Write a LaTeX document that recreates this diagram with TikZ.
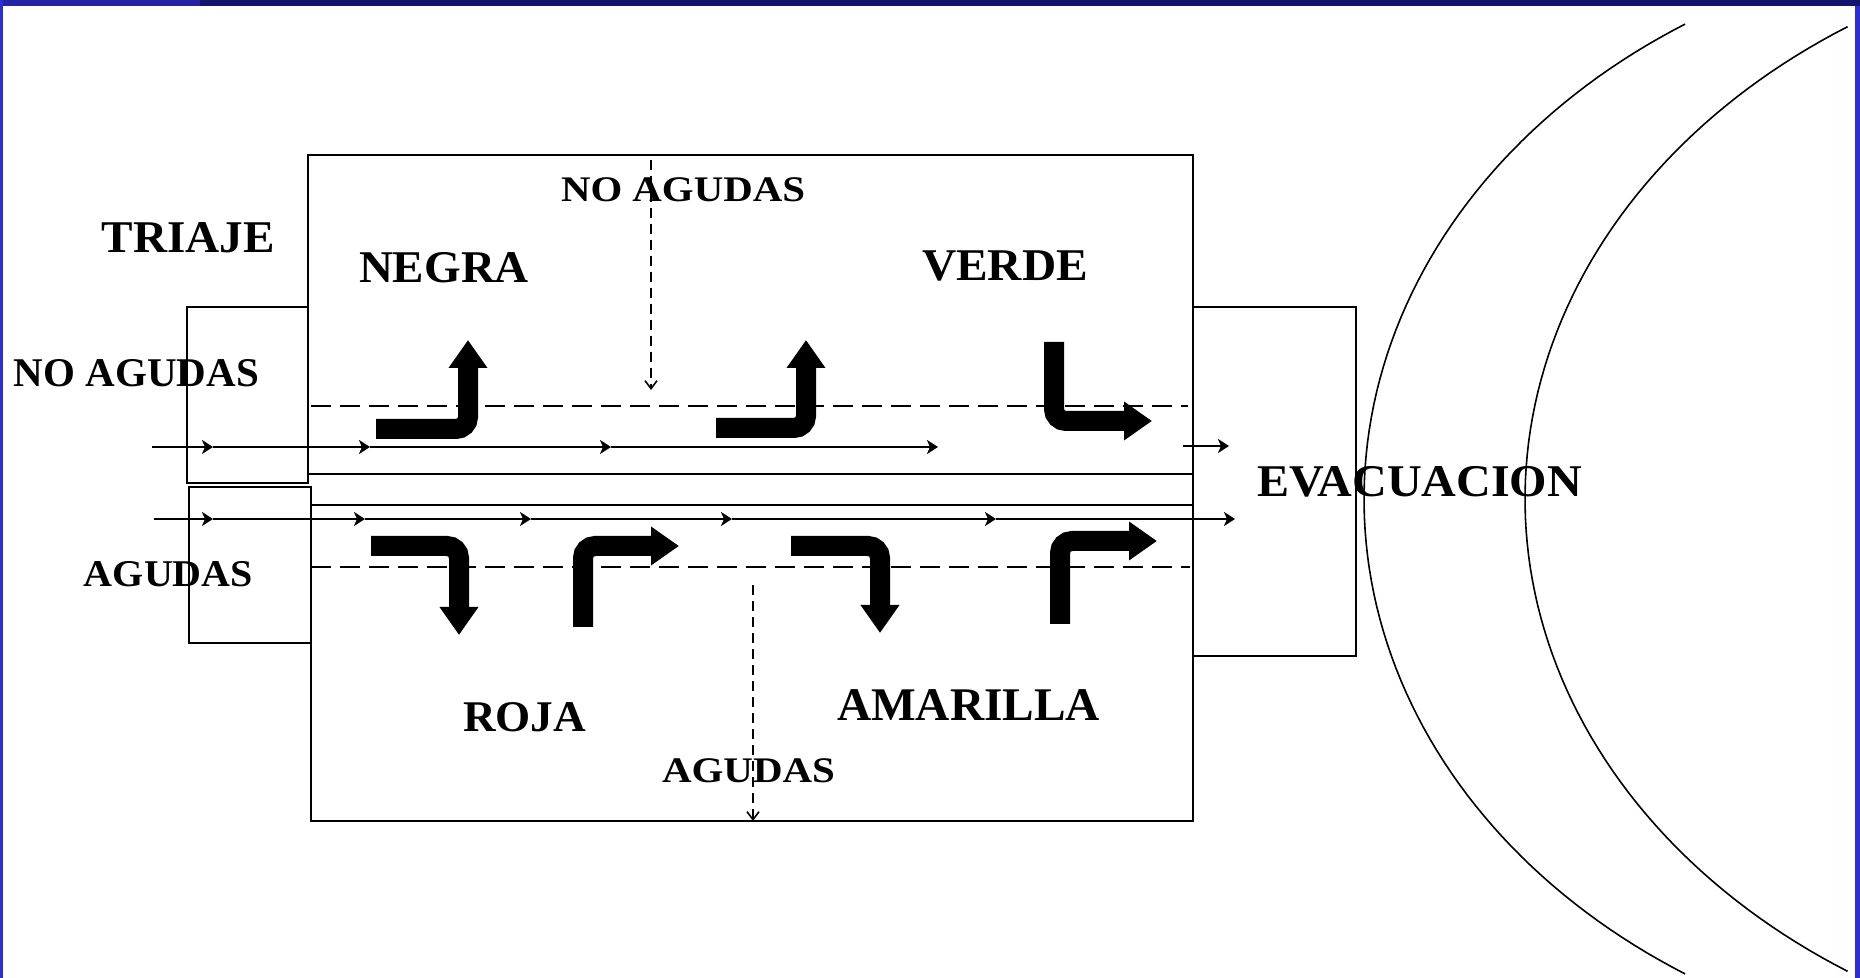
\documentclass[tikz,border=0pt]{standalone}
\usepackage{fontspec}
\setmainfont{Liberation Serif}
\usepackage{graphicx}
\usetikzlibrary{arrows.meta}
\definecolor{navy}{RGB}{20,20,110}
\definecolor{navylight}{RGB}{35,35,165}
\definecolor{sideblue}{RGB}{45,45,215}
\newcommand{\lbltext}[3]{\fontsize{#1}{#1}\selectfont\resizebox{#2}{\height}{#3}}
\begin{document}
\begin{tikzpicture}[x=0.5pt,y=-0.5pt,
  boxline/.style={line width=1pt},
  flow/.style={line width=1pt,-{Stealth[length=5.5pt,width=7pt,inset=1.5pt]}},
  bigarrow/.style={line width=10pt,rounded corners=6pt,-{Triangle[length=14pt,width=18.5pt]}},
  dasharrow/.style={line width=0.8pt,dash pattern=on 5pt off 3pt,-{Straight Barb[length=4pt,width=6pt]}},
  divide/.style={line width=0.9pt,dash pattern=on 10pt off 4.5pt},
  lbl/.style={inner sep=0pt,anchor=base,font=\bfseries},
  arcline/.style={line width=0.8pt}]
% canvas and frame
\useasboundingbox (0,0) rectangle (1860,978);
\fill[white] (0,0) rectangle (1860,978);
\fill[navy] (0,0) rectangle (1860,6);
\fill[navylight] (0,0) rectangle (200,6);
\fill[sideblue] (0,0) rectangle (3,978);
\fill[sideblue] (1855,6) rectangle (1860,978);

% curved arcs on the right
\draw[arcline] plot[domain=122:238,samples=90] ({2047+683*cos(\x)},{499+560*sin(\x)});
\draw[arcline] plot[domain=122.5:237.5,samples=90] ({2222+697*cos(\x)},{499+560*sin(\x)});

% boxes
\draw[boxline] (308,483) -- (308,155) -- (1193,155) -- (1193,821) -- (311,821) -- (311,505) -- (1193,505);
\draw[boxline] (308,474) -- (1193,474);
\draw[boxline] (187,307) rectangle (308,483);
\draw[boxline] (189,487) rectangle (311,643);
\draw[boxline] (1193,307) rectangle (1356,656);

% dashed dividers
\draw[divide] (311,406) -- (1188,406);
\draw[divide] (311,567) -- (1190,567);

% labels
\node[lbl] (triaje) at (188.5,253) {\lbltext{22.7pt}{86.5pt}{TRIAJE}};
\node[lbl] (negra) at (444,283) {\lbltext{22.7pt}{85pt}{NEGRA}};
\node[lbl] (noagtop) at (683,202) {\lbltext{18pt}{122pt}{NO AGUDAS}};
\node[lbl] (verde) at (1005,281) {\lbltext{22.7pt}{83pt}{VERDE}};
\node[lbl] (noagleft) at (136.5,387) {\lbltext{20.4pt}{122.5pt}{NO AGUDAS}};
\node[lbl] (evac) at (1419.5,497) {\lbltext{22.7pt}{162.5pt}{EVACUACION}};
\node[lbl] (agleft) at (168.5,587) {\lbltext{18.9pt}{84.5pt}{AGUDAS}};
\node[lbl] (roja) at (524.5,732) {\lbltext{21.9pt}{61.5pt}{ROJA}};
\node[lbl] (amarilla) at (968.5,721) {\lbltext{23.4pt}{131.5pt}{AMARILLA}};
\node[lbl] (agbottom) at (748.5,783) {\lbltext{18pt}{86.5pt}{AGUDAS}};

% vertical dashed arrows
\coordinate (na1) at (651,160);
\coordinate (na2) at (651,390);
\draw[dasharrow] (na1) -- (na2);
\coordinate (ag1) at (753,585);
\coordinate (ag2) at (753,821);
\draw[dasharrow] (ag1) -- (ag2);

% upper flow (no agudas)
\coordinate (u0) at (152,447);
\coordinate (u1) at (213,447);
\coordinate (u2) at (370,447);
\coordinate (u3) at (611,447);
\coordinate (u4) at (938,447);
\coordinate (u5) at (1183,446);
\coordinate (u6) at (1229,446);
\draw[flow] (u0) -- (u1);
\draw[flow] (u1) -- (u2);
\draw[flow] (u2) -- (u3);
\draw[flow] (u3) -- (u4);
\draw[flow] (u5) -- (u6);

% lower flow (agudas)
\coordinate (l0) at (154,519);
\coordinate (l1) at (213,519);
\coordinate (l2) at (365,519);
\coordinate (l3) at (531,519);
\coordinate (l4) at (732,519);
\coordinate (l5) at (996,519);
\coordinate (l6) at (1235,519);
\draw[flow] (l0) -- (l1);
\draw[flow] (l1) -- (l2);
\draw[flow] (l2) -- (l3);
\draw[flow] (l3) -- (l4);
\draw[flow] (l4) -- (l5);
\draw[flow] (l5) -- (l6);

% big turning arrows
\coordinate (a1s) at (376,429);
\coordinate (a1e) at (468,340);
\draw[bigarrow] (a1s) -| (a1e);
\coordinate (a2s) at (716,428);
\coordinate (a2e) at (806,340);
\draw[bigarrow] (a2s) -| (a2e);
\coordinate (a3s) at (1054,342);
\coordinate (a3e) at (1152,421);
\draw[bigarrow] (a3s) |- (a3e);
\coordinate (a4s) at (371,546);
\coordinate (a4e) at (459,635);
\draw[bigarrow] (a4s) -| (a4e);
\coordinate (a5s) at (583,627);
\coordinate (a5e) at (679,546);
\draw[bigarrow] (a5s) |- (a5e);
\coordinate (a6s) at (791,546);
\coordinate (a6e) at (880,633);
\draw[bigarrow] (a6s) -| (a6e);
\coordinate (a7s) at (1060,624);
\coordinate (a7e) at (1157,541);
\draw[bigarrow] (a7s) |- (a7e);
\end{tikzpicture}
\end{document}
